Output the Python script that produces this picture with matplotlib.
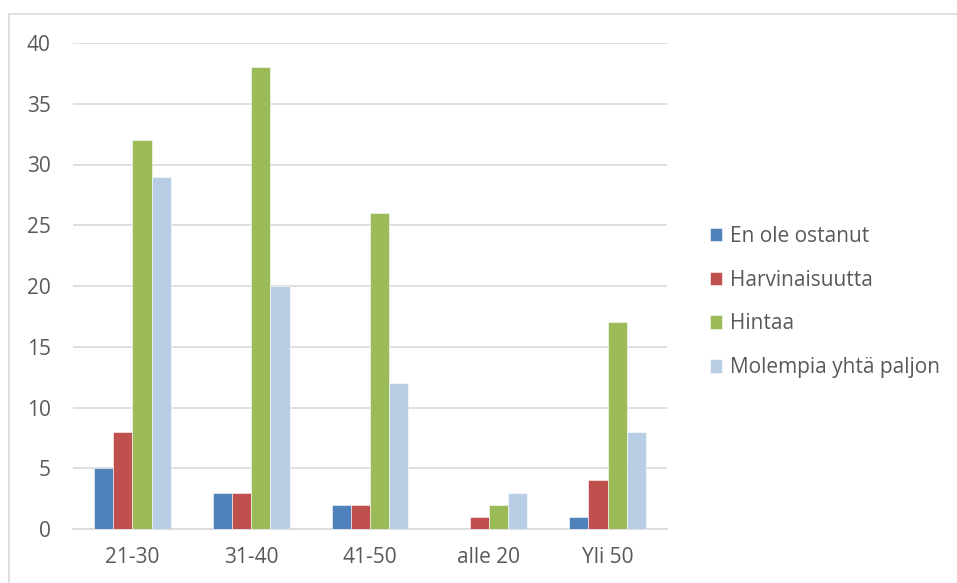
import matplotlib.pyplot as plt
import numpy as np
from matplotlib.patches import Rectangle

categories = ['21-30', '31-40', '41-50', 'alle 20', 'Yli 50']
series_names = ['En ole ostanut', 'Harvinaisuutta', 'Hintaa', 'Molempia yhtä paljon']
en_ole_ostanut = [5, 3, 2, 0, 1]
harvinaisuutta = [8, 3, 2, 1, 4]
hintaa = [32, 38, 26, 2, 17]
molempia = [29, 20, 12, 3, 8]
y_ticks = [0, 5, 10, 15, 20, 25, 30, 35, 40]

colors = ['#4F81BD', '#C0504D', '#9BBB59', '#B9CDE5']
text_col = '#595959'
grid_col = '#D9D9D9'

plt.rcParams['font.family'] = ['Open Sans', 'DejaVu Sans']

fig = plt.figure(figsize=(9.57, 5.83), dpi=100)
ax = fig.add_axes([73 / 957, 54 / 583, 594 / 957, 486 / 583])

# chart border (Excel style)
fig.patches.append(Rectangle((9 / 957, -0.1), 1.2, 1 - 14 / 583 + 0.1,
                             transform=fig.transFigure, fill=False,
                             edgecolor=grid_col, linewidth=1.2))

x = np.arange(len(categories))
w = 0.162
all_series = [en_ole_ostanut, harvinaisuutta, hintaa, molempia]
for i, vals in enumerate(all_series):
    ax.bar(x + (i - 1.5) * w, vals, w, color=colors[i], label=series_names[i],
           edgecolor='white', linewidth=0.4, zorder=3)

ax.set_xlim(-0.5, len(categories) - 0.5)
ax.set_ylim(0, 40)
ax.set_yticks(y_ticks)
ax.set_xticks(x)
ax.set_xticklabels(categories)
ax.yaxis.grid(True, color=grid_col, linewidth=1.2, zorder=0)
ax.tick_params(axis='both', length=0, labelsize=15, colors=text_col)
ax.tick_params(axis='y', pad=16)
ax.tick_params(axis='x', pad=13)
for s in ['top', 'right', 'left']:
    ax.spines[s].set_visible(False)
ax.spines['bottom'].set_color(grid_col)
ax.spines['bottom'].set_linewidth(1.2)

leg = ax.legend(loc='center left', bbox_to_anchor=(691 / 957, 1 - 302 / 583),
                bbox_transform=fig.transFigure, frameon=False,
                fontsize=15, handlelength=0.6, handleheight=0.6,
                handletextpad=0.35, labelspacing=1.1)
for t in leg.get_texts():
    t.set_color(text_col)

fig.savefig('out.png', dpi=100)
